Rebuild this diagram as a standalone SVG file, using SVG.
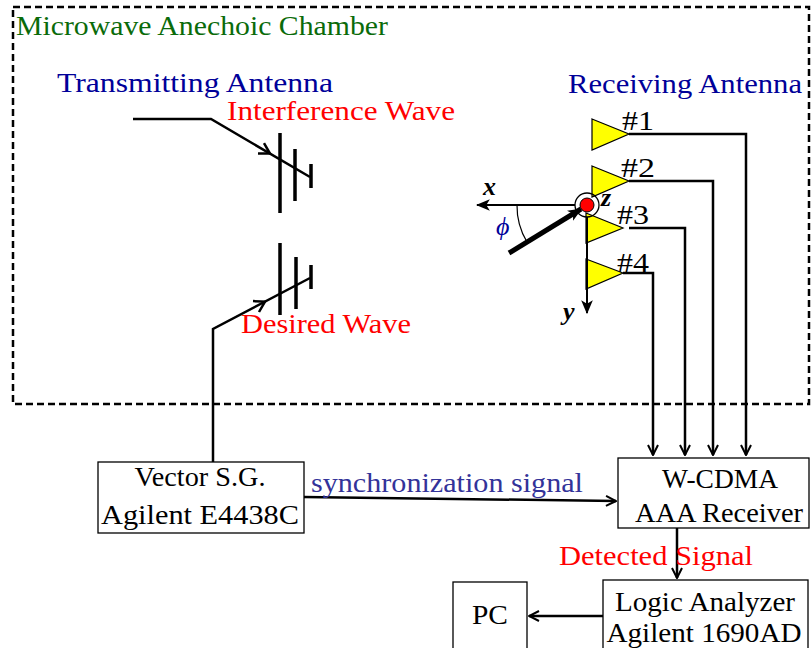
<svg xmlns="http://www.w3.org/2000/svg" width="812" height="648" viewBox="0 0 812 648">
<defs>
<style>
text{font-family:"Liberation Serif","DejaVu Serif",serif;font-size:27px;}
.g{fill:#0a6b0a}
.b{fill:#000099}
.s{fill:#333399}
.r{fill:#ff0000}
.k{fill:#000}
.mid{text-anchor:middle}
.box{fill:#fff;stroke:#000;stroke-width:1.3}
.w{fill:none;stroke:#000;stroke-width:2.5}
.ant{fill:none;stroke:#000;stroke-width:3.5}
.tri{fill:#ffff00;stroke:#000;stroke-width:1.2}
.ax{font-style:italic;font-weight:bold;font-size:26px}
</style>
<marker id="open" viewBox="0 0 12 12" refX="11" refY="6" markerWidth="12" markerHeight="12" markerUnits="userSpaceOnUse" orient="auto">
<path d="M1,1 L11,6 L1,11" fill="none" stroke="#000" stroke-width="2"/>
</marker>
<marker id="fill" viewBox="0 0 12 12" refX="11" refY="6" markerWidth="14" markerHeight="14" markerUnits="userSpaceOnUse" orient="auto">
<path d="M0,1 L12,6 L0,11 L3,6 Z" fill="#000"/>
</marker>
</defs>
<rect x="0" y="0" width="812" height="648" fill="#fff"/>

<g id="chamber">
<rect x="13" y="7" width="796" height="397" fill="none" stroke="#000" stroke-width="2.5" stroke-dasharray="7,4"/>
<text x="16" y="35" class="g" textLength="372" lengthAdjust="spacingAndGlyphs">Microwave Anechoic Chamber</text>
</g>

<g id="tx-antenna">
<text x="57" y="92" class="b" textLength="276" lengthAdjust="spacingAndGlyphs">Transmitting Antenna</text>
<path class="ant" d="M280,133 V213 M295,149 V201 M311,164 V188"/>
</g>

<g id="interference">
<text x="227" y="120" class="r" textLength="228" lengthAdjust="spacingAndGlyphs">Interference Wave</text>
</g>

<g id="desired">
<path class="ant" d="M280,243 V315 M296,257 V309 M311,265 V289"/>
<text x="241" y="333" class="r" textLength="170" lengthAdjust="spacingAndGlyphs">Desired Wave</text>
</g>

<g id="rx-antenna">
<text x="568" y="93" class="b" textLength="234" lengthAdjust="spacingAndGlyphs">Receiving Antenna</text>
<polygon class="tri" points="592,119 629,134 592,150"/>
<polygon class="tri" points="592,166 629,181 592,197"/>
<polygon class="tri" points="586,213 623,228 586,243"/>
<polygon class="tri" points="586,259 623,273 586,289"/>
<text x="622" y="130" class="k" textLength="32" lengthAdjust="spacingAndGlyphs">#1</text>
<text x="621" y="177" class="k" textLength="34" lengthAdjust="spacingAndGlyphs">#2</text>
<text x="617" y="224" class="k" textLength="32" lengthAdjust="spacingAndGlyphs">#3</text>
<text x="617" y="272" class="k" textLength="32" lengthAdjust="spacingAndGlyphs">#4</text>
</g>

<g id="axes">
<line x1="575" y1="205" x2="477" y2="205" stroke="#000" stroke-width="2" marker-end="url(#fill)"/>
<line x1="587" y1="217" x2="587" y2="313" stroke="#000" stroke-width="2" marker-end="url(#fill)"/>
<line x1="509" y1="253" x2="581" y2="209" stroke="#000" stroke-width="5" marker-end="url(#fill)"/>
<path d="M517,205 A70,70 0 0 0 527,242" fill="none" stroke="#000" stroke-width="1.2"/>
<circle cx="587" cy="205" r="12" fill="none" stroke="#000" stroke-width="1.3"/>
<circle cx="587" cy="205" r="7" fill="#ff0000" stroke="#000" stroke-width="1"/>
<text x="483" y="195" class="k ax">x</text>
<text x="601" y="206" class="k ax">z</text>
<text x="563" y="320" class="k ax">y</text>
<text x="496" y="235" class="b ax" style="font-weight:normal">ϕ</text>
</g>

<g id="vsg">
<rect class="box" x="98" y="462" width="206" height="71"/>
<text x="200" y="486" class="k mid" textLength="131" lengthAdjust="spacingAndGlyphs">Vector S.G.</text>
<text x="200" y="524" class="k mid" textLength="198" lengthAdjust="spacingAndGlyphs">Agilent E4438C</text>
</g>

<g id="receiver">
<rect class="box" x="618" y="458" width="191" height="70"/>
<text x="720" y="488" class="k mid" textLength="116" lengthAdjust="spacingAndGlyphs">W-CDMA</text>
<text x="719" y="522" class="k mid" textLength="168" lengthAdjust="spacingAndGlyphs">AAA Receiver</text>
</g>

<g id="logic">
<rect class="box" x="603" y="580" width="205" height="75"/>
<text x="705" y="611" class="k mid" textLength="180" lengthAdjust="spacingAndGlyphs">Logic Analyzer</text>
<text x="704" y="642" class="k mid" textLength="195" lengthAdjust="spacingAndGlyphs">Agilent 1690AD</text>
</g>

<g id="pc">
<rect class="box" x="453" y="582" width="74" height="75"/>
<text x="490" y="624" class="k mid" textLength="36" lengthAdjust="spacingAndGlyphs">PC</text>
</g>

<g id="connectors">
<path class="w" d="M133,119 H211 L310,177"/>
<path class="w" d="M258,153.5 L270,153.6 L264,143.2"/>
<path class="w" d="M213,462 V329 L310,278"/>
<path class="w" d="M259,312 L265,301.6 L253,301.1"/>
<path class="w" d="M629,134 H746 V455" marker-end="url(#open)"/>
<path class="w" d="M629,181 H713 V455" marker-end="url(#open)"/>
<path class="w" d="M629,228 H685 V455" marker-end="url(#open)"/>
<path class="w" d="M623,273 H653 V455" marker-end="url(#open)"/>
<path class="w" d="M304,497 L616,501" marker-end="url(#open)"/>
<path class="w" d="M677,528 V578" marker-end="url(#open)"/>
<path class="w" d="M603,616 H529" marker-end="url(#open)"/>
<text x="311" y="492" class="s" textLength="272" lengthAdjust="spacingAndGlyphs">synchronization signal</text>
<text x="559" y="565" class="r" textLength="194" lengthAdjust="spacingAndGlyphs">Detected Signal</text>
</g>
</svg>
